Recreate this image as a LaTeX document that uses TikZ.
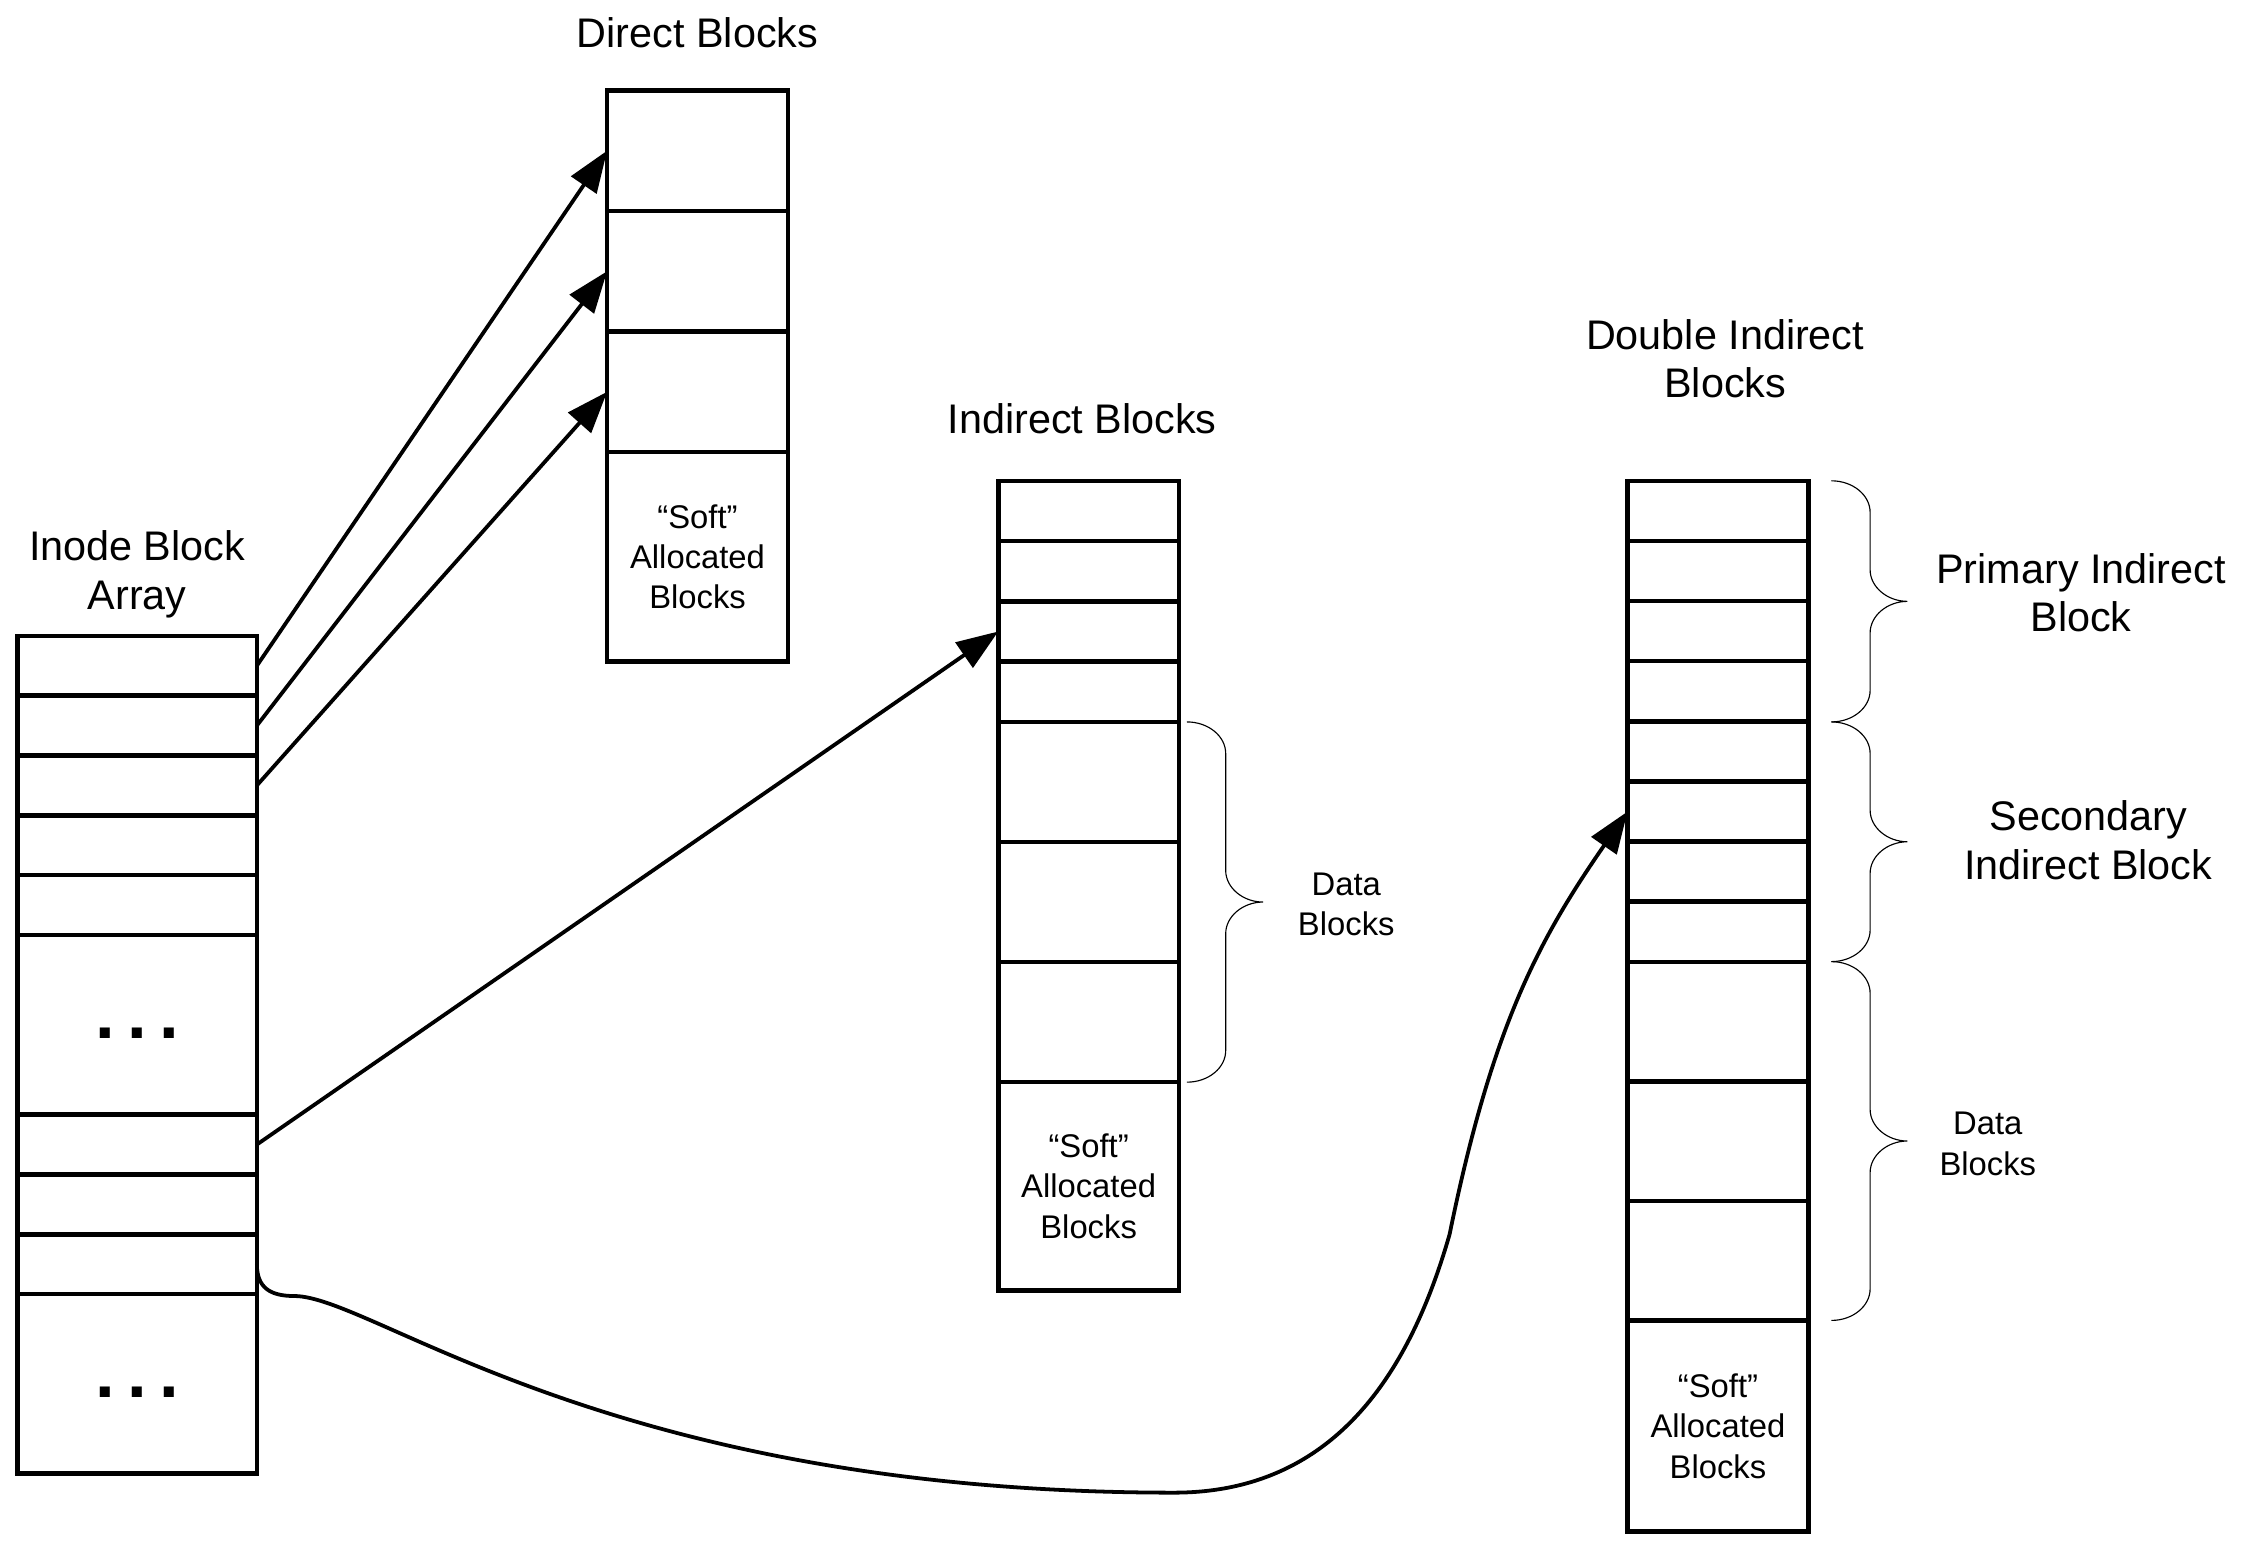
\documentclass[tikz,border=0pt]{standalone}
\usepackage{fontspec}
\setmainfont{Liberation Sans}
\usetikzlibrary{positioning}
\usetikzlibrary{arrows.meta}

\newcommand{\titlesize}{\fontsize{16.4}{19.3}\selectfont}
\newcommand{\notesize}{\fontsize{13}{15.9}\selectfont}

% curly brace opening to the right: x, top y, bottom y (sketch pixels, downwards)
\newcommand{\curly}[3]{%
    \draw[brc] (#1,-#2)
        .. controls ({#1+15},-#2) and ({#1+27},{-#2-10}) .. ({#1+27},{-#2-22})
        -- ({#1+27},{-(#2+#3)/2+22})
        .. controls ({#1+27},{-(#2+#3)/2+10}) and ({#1+39},{-(#2+#3)/2}) .. ({#1+53},{-(#2+#3)/2})
        .. controls ({#1+39},{-(#2+#3)/2}) and ({#1+27},{-(#2+#3)/2-10}) .. ({#1+27},{-(#2+#3)/2-22})
        -- ({#1+27},{-#3+22})
        .. controls ({#1+27},{-#3+10}) and ({#1+15},-#3) .. (#1,-#3);}

\tikzset{
    cell/.style={ % one slot of a block column
    draw, line width=1.8pt,
    inner sep=0pt, outer sep=0pt,
    minimum width=2.52cm,
    align=center, font=\notesize},
    title/.style={align=center, font=\titlesize},
    note/.style={align=center, font=\notesize},
    gap/.style={font=\fontsize{28}{30}\bfseries\selectfont},
    ptr/.style={-{Triangle[length=16.5pt,width=12pt]}, line width=1.5pt},
    brc/.style={line width=0.45pt}}

\begin{document}
\begin{tikzpicture}[x=0.02cm, y=0.02cm]
        \useasboundingbox (0,0) rectangle (1567,-1080.7);

        % Inode block array
        \foreach \n/\y/\h in {1/463.85/0.834, 2/505.55/0.834, 3/547.25/0.834, 4/588.95/0.834,
                5/630.65/0.834, 6/714.05/2.502, 7/797.45/0.834, 8/839.15/0.834,
                9/880.85/0.834, 10/964.25/2.502} {
                \node[cell, minimum width=3.34cm, minimum height=\h cm] (i\n) at (95.5,-\y) {};
            }
        \node[gap] (gap1) at ([yshift=-0.12cm]i6.center) {.\hspace{5pt}.\hspace{5pt}.};
        \node[gap] (gap2) at ([yshift=-0.12cm]i10.center) {.\hspace{5pt}.\hspace{5pt}.};
        \node[title] (inodeT) at (95.5,-400) {Inode Block\\Array};

        % Direct blocks
        \foreach \n/\y in {1/105, 2/189, 3/273} {
                \node[cell, minimum height=1.68cm] (d\n) at (486,-\y) {};
            }
        \node[cell, minimum height=2.92cm] (d4) at (486,-388) {``Soft''\\Allocated\\Blocks};
        \node[title] (directT) at (486,-23) {Direct Blocks};

        % Indirect blocks
        \foreach \n/\y/\h in {1/356/0.84, 2/398/0.84, 3/440/0.84, 4/482/0.84,
                5/544.8/1.673, 6/628.5/1.673, 7/712.2/1.673} {
                \node[cell, minimum height=\h cm] (n\n) at (758.5,-\y) {};
            }
        \node[cell, minimum height=2.9cm] (n8) at (758.5,-826.5) {``Soft''\\Allocated\\Blocks};
        \node[title] (indirectT) at (754,-292) {Indirect Blocks};

        % Double indirect blocks
        \foreach \n/\y/\h in {1/355.95/0.838, 2/397.85/0.838, 3/439.75/0.838, 4/481.65/0.838,
                5/523.55/0.838, 6/565.45/0.838, 7/607.35/0.838, 8/649.25/0.838,
                9/711.85/1.666, 10/795.15/1.666, 11/878.45/1.666} {
                \node[cell, minimum height=\h cm] (dd\n) at (1197,-\y) {};
            }
        \node[cell, minimum height=2.93cm] (dd12) at (1197,-993.75) {``Soft''\\Allocated\\Blocks};
        \node[title] (doubleT) at (1202,-250) {Double Indirect\\Blocks};

        % Braces and their labels
        \curly{827}{503}{754}
        \curly{1276}{335}{503}
        \curly{1276}{503}{670}
        \curly{1276}{670}{920}
        \node[note] (dataA) at (938,-630) {Data\\Blocks};
        \node[title] (primaryT) at (1450,-413) {Primary Indirect\\Block};
        \node[title] (secondaryT) at (1455,-585.5) {Secondary\\Indirect Block};
        \node[note] (dataB) at (1385,-797) {Data\\Blocks};

        % Pointers out of the inode
        \foreach \a/\b in {i1/d1, i2/d2, i3/d3} {
                \draw[ptr] (\a.east) -- (\b.west);
            }
        \draw[ptr] (i7.east) -- (n3.west);
        \draw[ptr] (i9.east) .. controls (179,-897) and (188,-903) .. (205,-903)
            .. controls (260,-903) and (423,-1040) .. (818,-1040)
            .. controls (930,-1040) and (982.5,-956) .. (1010,-860)
            .. controls (1039.6,-715) and (1072,-655) .. (dd6.west);

    \end{tikzpicture}
\end{document}
